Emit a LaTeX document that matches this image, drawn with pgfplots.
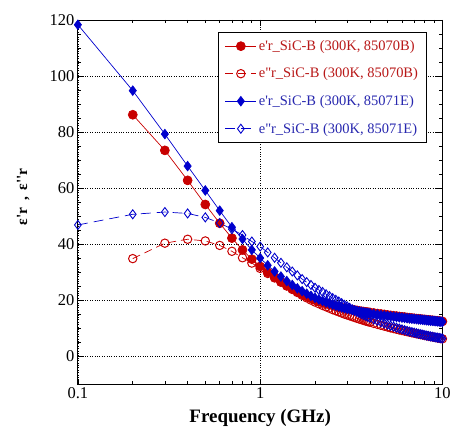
\documentclass[border=0pt]{standalone}
\usepackage{fontspec}
\setmainfont{Liberation Serif}
\setsansfont{Liberation Sans}
\usepackage{pgfplots}
\pgfplotsset{compat=1.18}
\usepackage{pgfplotstable}

\definecolor{dred}{RGB}{200,0,0}
\definecolor{dblue}{RGB}{0,0,205}
\definecolor{tred}{RGB}{185,25,25}
\definecolor{tblue}{RGB}{40,40,175}

% e'r, 85070B
\pgfplotstableread{
f v
0.2 86.2
0.3 73.5
0.4 62.8
0.5 54.2
0.6 47.5
0.7 42.2
0.8 38.0
0.9 34.7
1.0 32.1
1.1 30.0
1.2 28.2
1.3 26.6
1.4 25.3
1.5 24.1
1.6 23.1
1.7 22.2
1.8 21.4
1.9 20.7
2.0 20.1
2.1 19.6
2.2 19.2
2.3 18.8
2.4 18.5
2.5 18.2
2.6 17.9
2.7 17.6
2.8 17.4
2.9 17.2
3.0 17.0
3.1 16.85
3.2 16.7
3.3 16.55
3.4 16.4
3.5 16.25
3.6 16.1
3.7 16.0
3.8 15.9
3.9 15.8
4.0 15.7
4.2 15.5
4.4 15.3
4.6 15.15
4.8 15.0
5.0 14.8
5.2 14.65
5.4 14.5
5.6 14.4
5.8 14.25
6.0 14.15
6.2 14.05
6.4 13.9
6.6 13.8
6.8 13.7
7.0 13.6
7.2 13.5
7.4 13.45
7.6 13.35
7.8 13.25
8.0 13.2
8.2 13.1
8.4 13.05
8.6 12.95
8.8 12.9
9.0 12.8
9.2 12.75
9.4 12.7
9.6 12.6
9.8 12.55
10 12.5
}\redA

% e''r, 85070B
\pgfplotstableread{
f v
0.2 34.9
0.3 40.4
0.4 41.8
0.5 41.2
0.6 39.6
0.7 37.5
0.8 35.2
0.9 33.3
1.0 31.4
1.1 29.6
1.2 28.0
1.3 26.5
1.4 25.1
1.5 23.9
1.6 22.8
1.7 21.8
1.8 20.9
1.9 20.1
2.0 19.4
2.1 18.8
2.2 18.2
2.3 17.7
2.4 17.2
2.5 16.7
2.6 16.3
2.7 15.9
2.8 15.5
2.9 15.1
3.0 14.8
3.1 14.5
3.2 14.2
3.3 13.9
3.4 13.6
3.5 13.35
3.6 13.1
3.7 12.85
3.8 12.6
3.9 12.4
4.0 12.2
4.2 11.8
4.4 11.45
4.6 11.1
4.8 10.8
5.0 10.5
5.2 10.2
5.4 9.95
5.6 9.7
5.8 9.45
6.0 9.25
6.2 9.05
6.4 8.85
6.6 8.65
6.8 8.45
7.0 8.3
7.2 8.1
7.4 7.95
7.6 7.8
7.8 7.65
8.0 7.5
8.2 7.35
8.4 7.25
8.6 7.1
8.8 7.0
9.0 6.85
9.2 6.75
9.4 6.6
9.6 6.5
9.8 6.4
10 6.3
}\redB

% e'r, 85071E
\pgfplotstableread{
f v
0.1 118.3
0.2 94.8
0.3 79.3
0.4 67.9
0.5 59.2
0.6 52.0
0.7 46.1
0.8 41.9
0.9 38.0
1.0 35.1
1.1 32.5
1.2 30.3
1.3 28.5
1.4 26.9
1.5 25.5
1.6 24.3
1.7 23.3
1.8 22.4
1.9 21.6
2.0 20.9
2.1 20.3
2.2 19.8
2.3 19.3
2.4 18.9
2.5 18.5
2.6 18.1
2.7 17.8
2.8 17.5
2.9 17.2
3.0 17.0
3.1 16.8
3.2 16.6
3.3 16.4
3.4 16.2
3.5 16.05
3.6 15.9
3.7 15.75
3.8 15.6
3.9 15.5
4.0 15.4
4.2 15.15
4.4 14.95
4.6 14.75
4.8 14.6
5.0 14.45
5.2 14.3
5.4 14.2
5.6 14.05
5.8 13.95
6.0 13.85
6.2 13.75
6.4 13.65
6.6 13.55
6.8 13.45
7.0 13.4
7.2 13.3
7.4 13.2
7.6 13.15
7.8 13.05
8.0 13.0
8.2 12.9
8.4 12.85
8.6 12.75
8.8 12.7
9.0 12.65
9.2 12.6
9.4 12.5
9.6 12.45
9.8 12.4
10 12.35
}\blueA

% e''r, 85071E
\pgfplotstableread{
f v
0.1 46.9
0.2 50.7
0.3 51.5
0.4 51.0
0.5 49.6
0.6 47.6
0.7 45.4
0.8 43.3
0.9 41.0
1.0 39.2
1.1 37.1
1.2 35.2
1.3 33.4
1.4 31.8
1.5 30.3
1.6 28.9
1.7 27.6
1.8 26.5
1.9 25.5
2.0 24.5
2.1 23.7
2.2 23.0
2.3 22.2
2.4 21.5
2.5 20.8
2.6 20.2
2.7 19.6
2.8 19.0
2.9 18.4
3.0 17.9
3.1 17.35
3.2 16.8
3.3 16.35
3.4 15.9
3.5 15.5
3.6 15.1
3.7 14.75
3.8 14.4
3.9 14.1
4.0 13.8
4.2 13.2
4.4 12.7
4.6 12.2
4.8 11.75
5.0 11.35
5.2 10.95
5.4 10.6
5.6 10.25
5.8 9.95
6.0 9.65
6.2 9.4
6.4 9.15
6.6 8.9
6.8 8.7
7.0 8.5
7.2 8.3
7.4 8.1
7.6 7.95
7.8 7.8
8.0 7.6
8.2 7.45
8.4 7.3
8.6 7.15
8.8 7.05
9.0 6.9
9.2 6.8
9.4 6.7
9.6 6.6
9.8 6.5
10 6.4
}\blueB

\begin{document}
\begin{tikzpicture}
\begin{axis}[
    scale only axis, width=365pt, height=365pt,
    xmode=log, xmin=0.1, xmax=10, ymin=-10, ymax=120,
    xtick={0.1,1,10}, xticklabels={0.1,1,10},
    ytick={0,20,...,120}, minor y tick num=3,
    grid=major, grid style={black, dotted, line width=0.6pt},
    axis line style={line width=0.9pt},
    major tick length=6pt, minor tick length=3.5pt,
    every tick/.style={black, line width=0.7pt},
    tick label style={font=\fontsize{16.5}{16.5}\selectfont},
    /pgf/number format/assume math mode=true,
    xlabel={\textbf{Frequency (GHz)}},
    xlabel style={font=\fontsize{19}{19}\selectfont, at={(axis description cs:0.5,-0.093)}, anchor=center},
    ylabel={ε\textquotesingle r\, ,\, ε\textquotesingle\textquotesingle r},
    ylabel style={font=\bfseries\fontsize{15.5}{15.5}\selectfont, at={(axis description cs:-0.15,0.515)}, anchor=center},
    legend style={at={(0.956,0.967)}, anchor=north east, draw=black, line width=0.8pt,
        font=\fontsize{14.5}{14.5}\selectfont, row sep=12pt, inner xsep=6pt, inner ysep=6pt,
        cells={anchor=west}},
    legend image code/.code={\draw[mark repeat=2,mark phase=2] plot coordinates {(0cm,0cm)(0.55cm,0cm)(1.1cm,0cm)};},
]
\addplot[color=dred, line width=0.7pt, mark=*, mark size=4.5pt, mark options={solid, fill=dred}] table {\redA};
\addlegendentry{\textcolor{tred}{e\textquotesingle r\_SiC-B (300K, 85070B)}}
\addplot[color=dred, line width=0.7pt, dash pattern=on 8pt off 5pt, mark=o, mark size=4.2pt, mark options={solid, line width=1pt}] table {\redB};
\addlegendentry{\textcolor{tred}{e\textquotedbl r\_SiC-B (300K, 85070B)}}
\addplot[color=dblue, line width=0.7pt, mark=diamond*, mark size=4.8pt, mark options={solid, fill=dblue}] table {\blueA};
\addlegendentry{\textcolor{tblue}{e\textquotesingle r\_SiC-B (300K, 85071E)}}
\addplot[color=dblue, line width=0.7pt, dash pattern=on 10pt off 6pt, mark=diamond, mark size=4.5pt, mark options={solid, line width=0.9pt}] table {\blueB};
\addlegendentry{\textcolor{tblue}{e\textquotedbl r\_SiC-B (300K, 85071E)}}
\end{axis}
\path[use as bounding box] ([shift={(-78pt,-49pt)}]current axis.south west) rectangle ([shift={(11pt,20pt)}]current axis.north east);
\end{tikzpicture}
\end{document}
